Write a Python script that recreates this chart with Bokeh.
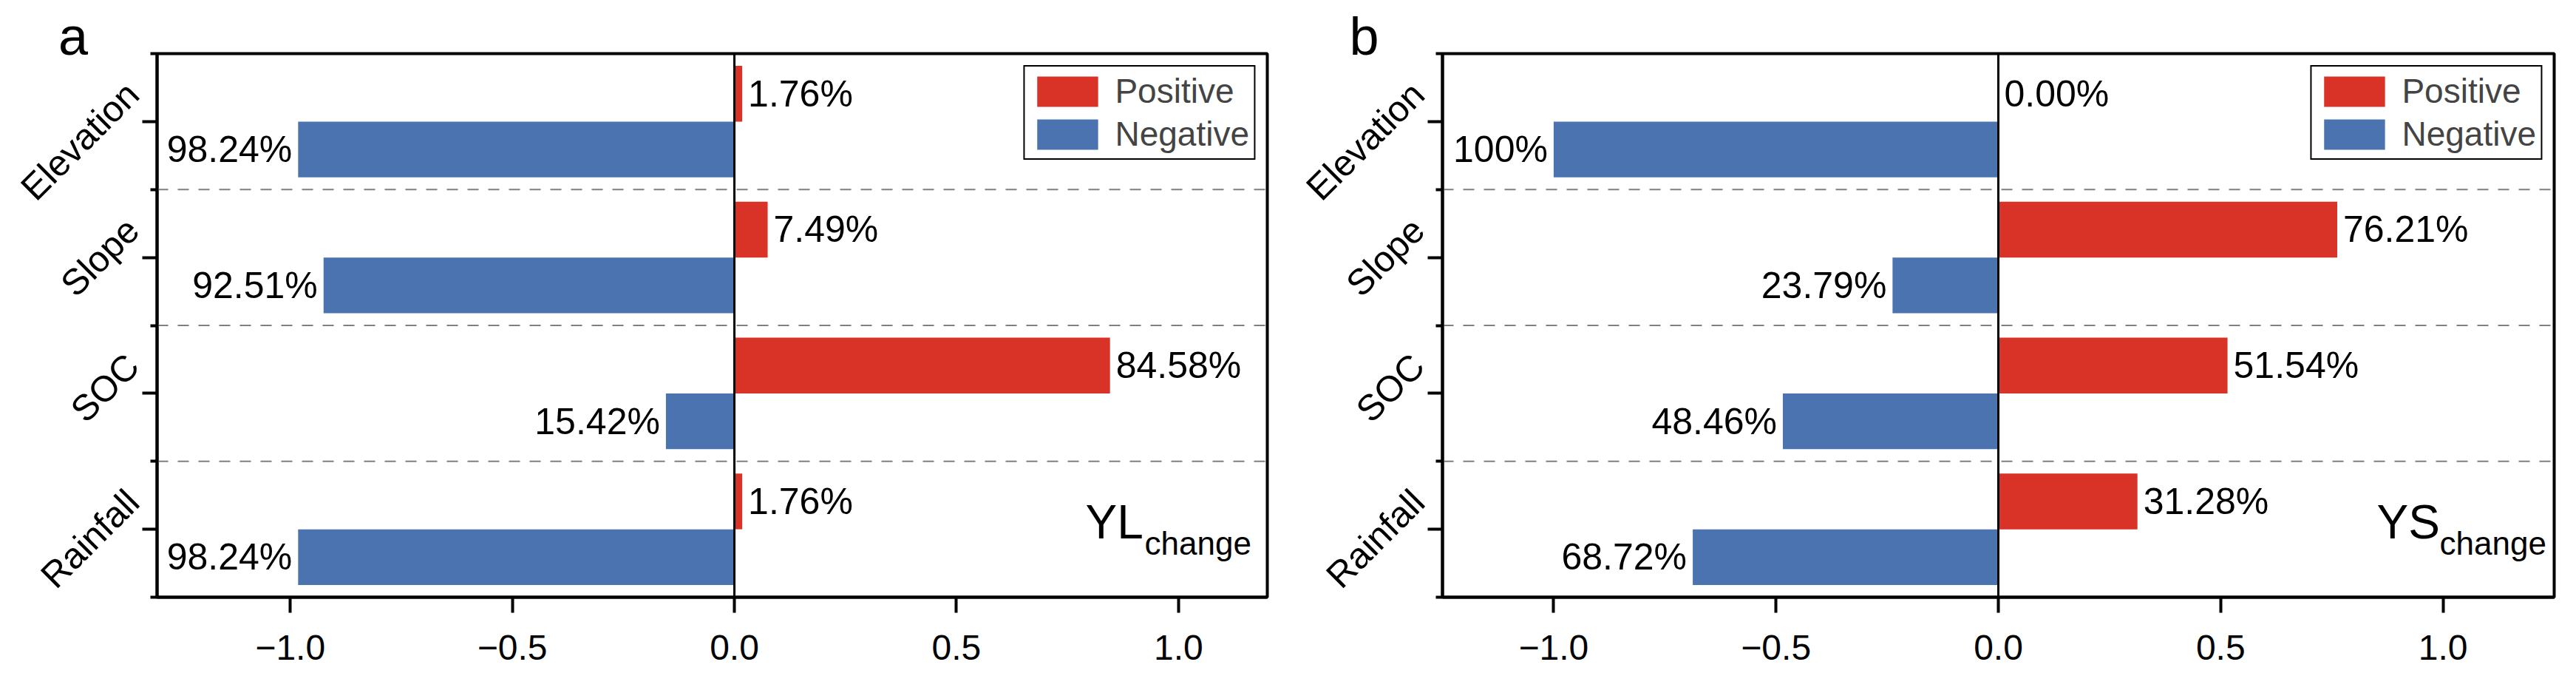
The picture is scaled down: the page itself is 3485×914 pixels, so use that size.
import math
from bokeh.plotting import figure
from bokeh.models import Range1d, FixedTicker, Legend, LegendItem, ColumnDataSource, LinearAxis
from bokeh.layouts import row
from bokeh.embed import file_html
from bokeh.resources import INLINE
from bokeh.core.properties import value

# ---------------- data ----------------
categories = ["Elevation", "Slope", "SOC", "Rainfall"]

a_positive = [0.0176, 0.0749, 0.8458, 0.0176]
a_negative = [0.9824, 0.9251, 0.1542, 0.9824]
a_pos_labels = ["1.76%", "7.49%", "84.58%", "1.76%"]
a_neg_labels = ["98.24%", "92.51%", "15.42%", "98.24%"]

b_positive = [0.0, 0.7621, 0.5154, 0.3128]
b_negative = [1.0, 0.2379, 0.4846, 0.6872]
b_pos_labels = ["0.00%", "76.21%", "51.54%", "31.28%"]
b_neg_labels = ["100%", "23.79%", "48.46%", "68.72%"]

x_ticks = [-1.0, -0.5, 0.0, 0.5, 1.0]
x_tick_labels = ["\u22121.0", "\u22120.5", "0.0", "0.5", "1.0"]

legend_labels = ["Positive", "Negative"]

RED = "#D93226"
BLUE = "#4A73B0"
FONT = "Liberation Sans"
NARROW = "'Liberation Sans Narrow', 'Liberation Sans', sans-serif"
BAR_H = 0.41
HEIGHT = 898
TOP = 72
FRAME_H = 735
MID = 0.35  # distance of the "middle" text anchor above the baseline, in em
N = len(categories)
UY = FRAME_H / N
CENTERS = [N - i - 0.5 for i in range(N)]


def make_labels(letter, width, letter_cx, br_x):
    """Narrow strip left of a panel: rotated category names and panel letter.
    Its frame is aligned with the panel frames of the row."""
    q = figure(width=width, height=HEIGHT, x_range=Range1d(0, width),
               y_range=Range1d(0, N), x_axis_type=None, y_axis_type=None,
               output_backend="svg", toolbar_location=None, min_border_left=0,
               min_border_right=0, min_border_top=TOP,
               min_border_bottom=HEIGHT - TOP - FRAME_H)
    q.outline_line_color = None
    q.background_fill_color = "white"
    q.border_fill_color = "white"
    fs_cat = 49
    d = MID * fs_cat / math.sqrt(2)
    q.text(x=[br_x - d] * N, y=[c + (33 + d) / UY for c in CENTERS], text=categories,
           angle=math.pi / 4, text_align="right", text_baseline="middle",
           text_font=value(FONT), text_font_size=f"{fs_cat}px", text_color="black")
    # panel letter as the label of an axis above the strip (baseline 16 px below frame top)
    top_axis = LinearAxis(ticker=FixedTicker(ticks=[letter_cx], minor_ticks=[]),
                          major_label_overrides={letter_cx: letter})
    top_axis.axis_line_color = None
    top_axis.major_tick_line_color = None
    top_axis.minor_tick_line_color = None
    top_axis.major_tick_out = 0
    top_axis.major_tick_in = 0
    top_axis.minor_tick_out = 0
    top_axis.major_label_standoff = -16
    top_axis.major_label_text_font = FONT
    top_axis.major_label_text_font_size = "72px"
    top_axis.major_label_text_color = "black"
    q.add_layout(top_axis, "above")
    return q


def make_panel(pos, neg, pos_lab, neg_lab, xmin, xmax, width, bl, br,
               main_txt, main_px, sub_px):
    frame_w = width - bl - br
    ux = frame_w / (xmax - xmin)

    def px_x(px):            # px measured from the frame's left edge
        return xmin + px / ux

    def py_y(py):            # py measured from the top of the canvas
        return N - (py - TOP) / UY

    p = figure(width=width, height=HEIGHT, x_range=Range1d(xmin, xmax),
               y_range=Range1d(0, N), output_backend="svg",
               toolbar_location=None, min_border_left=bl, min_border_right=br,
               min_border_top=TOP, min_border_bottom=HEIGHT - TOP - FRAME_H)
    p.xgrid.visible = False
    p.ygrid.visible = False
    p.background_fill_color = "white"
    p.border_fill_color = "white"
    p.outline_line_color = "black"
    p.outline_line_width = 4

    src_p = ColumnDataSource(dict(y=[c + BAR_H / 2 for c in CENTERS], right=pos, lab=pos_lab))
    src_n = ColumnDataSource(dict(y=[c - BAR_H / 2 for c in CENTERS], left=[-v for v in neg],
                                  lab=neg_lab))
    r_pos = p.hbar(y="y", left=0, right="right", height=BAR_H, source=src_p,
                   fill_color=RED, line_color=None)
    r_neg = p.hbar(y="y", left="left", right=0, height=BAR_H, source=src_n,
                   fill_color=BLUE, line_color=None)

    # separators between categories
    seps = list(range(1, N))
    p.segment(x0=[xmin] * len(seps), x1=[xmax] * len(seps), y0=seps, y1=seps,
              line_color="#808080", line_dash="15 13", line_width=2)
    # zero line
    p.segment(x0=[0], x1=[0], y0=[0], y1=[N], line_color="black", line_width=3)

    # value labels
    p.text(x="right", y="y", text="lab", source=src_p, text_align="left",
           text_baseline="middle", x_offset=8, text_font=value(FONT),
           text_font_size="50px", text_color="black")
    p.text(x="left", y="y", text="lab", source=src_n, text_align="right",
           text_baseline="middle", x_offset=-8, text_font=value(FONT),
           text_font_size="50px", text_color="black")

    # axes
    xa = p.xaxis[0]
    xa.ticker = FixedTicker(ticks=x_ticks, minor_ticks=[])
    xa.major_label_overrides = {t: l for t, l in zip(x_ticks, x_tick_labels)}
    xa.axis_line_width = 4
    xa.major_tick_line_width = 4
    xa.major_tick_out = 21
    xa.major_tick_in = 0
    xa.minor_tick_line_color = None
    xa.major_label_text_font = FONT
    xa.major_label_text_font_size = "48px"
    xa.major_label_text_color = "black"
    xa.major_label_standoff = 30

    ya = p.yaxis[0]
    bounds = list(range(0, N + 1))
    ya.ticker = FixedTicker(ticks=CENTERS, minor_ticks=bounds)
    ya.major_label_overrides = {c: "" for c in CENTERS}
    ya.axis_line_width = 4
    ya.major_tick_line_width = 4
    ya.minor_tick_line_width = 4
    ya.major_tick_out = 20
    ya.major_tick_in = 0
    ya.minor_tick_out = 9
    ya.minor_tick_in = 0
    ya.major_label_standoff = 0

    # YL / YS with subscript
    p.text(x=[px_x(main_px)], y=[py_y(728 - MID * 64)], text=[main_txt],
           text_align="left", text_baseline="middle", text_font=value(FONT),
           text_font_size="64px", text_color="black")
    p.text(x=[px_x(sub_px)], y=[py_y(749 - MID * 44)], text=["change"],
           text_align="left", text_baseline="middle", text_font=value(NARROW),
           text_font_size="44px", text_color="black")

    legend = Legend(items=[LegendItem(label=legend_labels[0], renderers=[r_pos]),
                           LegendItem(label=legend_labels[1], renderers=[r_neg])],
                    location="top_right")
    legend.glyph_width = 103
    legend.glyph_height = 51
    legend.label_text_font = FONT
    legend.label_text_font_size = "46px"
    legend.label_standoff = 13
    legend.label_height = 51
    legend.spacing = 4
    legend.padding = 6
    legend.margin = 16
    legend.border_line_color = "black"
    legend.border_line_alpha = 1.0
    legend.border_line_width = 2
    legend.background_fill_alpha = 1
    p.add_layout(legend)
    return p


la = make_labels("a", 192, 98.5, 191)
pa = make_panel(a_positive, a_negative, a_pos_labels, a_neg_labels,
                -1.3, 1.2, 1558, 20, 36, "YL", 1256, 1336)
lb = make_labels("b", 181, 95, 180)
pb = make_panel(b_positive, b_negative, b_pos_labels, b_neg_labels,
                -1.25, 1.25, 1546, 20, 22, "YS", 1264, 1349)

layout = row(la, pa, lb, pb)
open("out.html", "w").write(file_html(layout, INLINE))
